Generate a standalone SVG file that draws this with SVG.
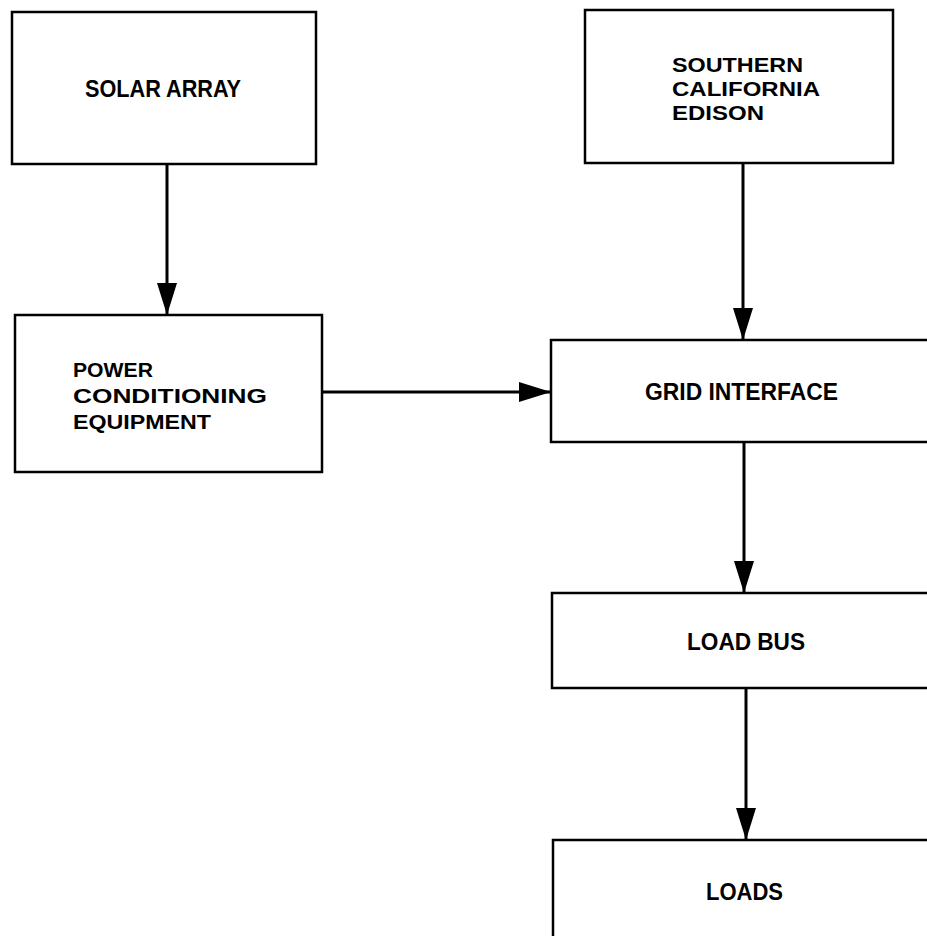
<svg xmlns="http://www.w3.org/2000/svg" width="927" height="936" viewBox="0 0 927 936">
<style>
.box{fill:#fff;stroke:#000;stroke-width:2.5}
.lbl{font-family:"Liberation Sans","DejaVu Sans",Arial,sans-serif;font-weight:bold;font-size:24px;fill:#000}
.ml{font-size:21px}
.conn{stroke:#000;stroke-width:3;fill:none}
</style>
<defs>
<marker id="ah" viewBox="0 0 32 20" refX="32" refY="10" markerWidth="32" markerHeight="20" markerUnits="userSpaceOnUse" orient="auto">
<path d="M0,0 L32,10 L0,20 Z" fill="#000"/>
</marker>
</defs>
<rect width="927" height="936" fill="#fff"/>
<g id="connectors">
<line class="conn" x1="167" y1="164" x2="167" y2="315" marker-end="url(#ah)"/>
<line class="conn" x1="743" y1="163" x2="743" y2="340" marker-end="url(#ah)"/>
<line class="conn" x1="322" y1="392" x2="551" y2="392" marker-end="url(#ah)"/>
<line class="conn" x1="744" y1="442" x2="744" y2="593" marker-end="url(#ah)"/>
<line class="conn" x1="746" y1="688" x2="746" y2="840" marker-end="url(#ah)"/>
</g>
<g id="solar-array">
<rect class="box" x="12" y="12" width="304" height="152"/>
<text class="lbl" x="85" y="97" textLength="156" lengthAdjust="spacingAndGlyphs">SOLAR ARRAY</text>
</g>
<g id="sce">
<rect class="box" x="585" y="10" width="308" height="153"/>
<text class="lbl ml" x="672" y="72" textLength="131" lengthAdjust="spacingAndGlyphs">SOUTHERN</text>
<text class="lbl ml" x="672" y="96" textLength="148" lengthAdjust="spacingAndGlyphs">CALIFORNIA</text>
<text class="lbl ml" x="672" y="120" textLength="92" lengthAdjust="spacingAndGlyphs">EDISON</text>
</g>
<g id="pce">
<rect class="box" x="15" y="315" width="307" height="157"/>
<text class="lbl ml" x="73" y="377" textLength="80" lengthAdjust="spacingAndGlyphs">POWER</text>
<text class="lbl ml" x="73" y="403" textLength="194" lengthAdjust="spacingAndGlyphs">CONDITIONING</text>
<text class="lbl ml" x="73" y="429" textLength="138" lengthAdjust="spacingAndGlyphs">EQUIPMENT</text>
</g>
<g id="grid-interface">
<rect class="box" x="551" y="340" width="390" height="102"/>
<text class="lbl" x="645" y="400" textLength="193" lengthAdjust="spacingAndGlyphs">GRID INTERFACE</text>
</g>
<g id="load-bus">
<rect class="box" x="552" y="593" width="390" height="95"/>
<text class="lbl" x="687" y="650" textLength="118" lengthAdjust="spacingAndGlyphs">LOAD BUS</text>
</g>
<g id="loads">
<rect class="box" x="553" y="840" width="390" height="110"/>
<text class="lbl" x="706" y="900" textLength="77" lengthAdjust="spacingAndGlyphs">LOADS</text>
</g>
</svg>
